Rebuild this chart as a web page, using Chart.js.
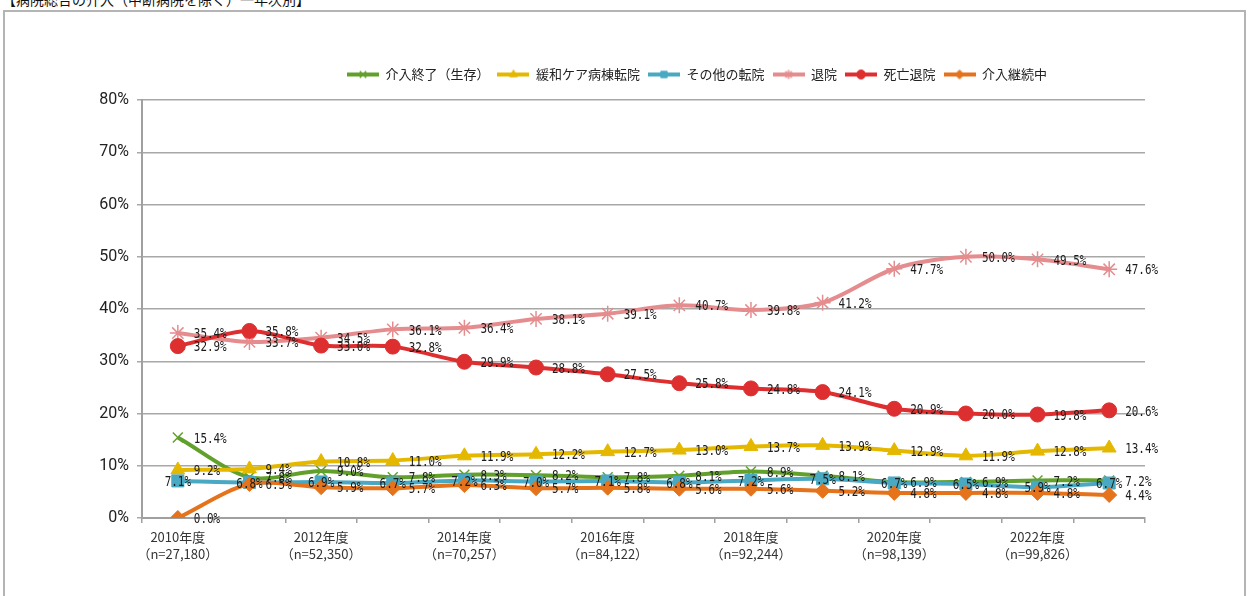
<!DOCTYPE html>
<html>
<head>
<meta charset="utf-8">
<script src="https://cdn.jsdelivr.net/npm/chart.js@4.4.1/dist/chart.umd.min.js"></script>
<style>
  html, body { margin: 0; padding: 0; background: #fff; }
  #wrap { position: relative; width: 1250px; height: 596px; overflow: hidden; }
  #title { position: absolute; left: 2px; top: -11px; font: 14px "Noto Sans CJK JP", sans-serif; color: #111; white-space: nowrap; }
  #frame { position: absolute; left: 3px; top: 10px; width: 1243px; height: 600px; border: 2px solid #b4b4b4; box-sizing: border-box; }
  #c { position: absolute; left: 0; top: 0; }
</style>
</head>
<body>
<div id="wrap">
  <div id="title">【病院総合の介入（中断病院を除く）一年次別】</div>
  <div id="frame"></div>
  <canvas id="c" width="1250" height="596"></canvas>
</div>
<script>
const years = ["2010年度","2011年度","2012年度","2013年度","2014年度","2015年度","2016年度","2017年度","2018年度","2019年度","2020年度","2021年度","2022年度","2023年度"];
const nLabels = ["（n=27,180）","","（n=52,350）","","（n=70,257）","","（n=84,122）","","（n=92,244）","","（n=98,139）","","（n=99,826）",""];
const shownYears = [true,false,true,false,true,false,true,false,true,false,true,false,true,false];

const seriesNames = ["介入終了（生存）","緩和ケア病棟転院","その他の転院","退院","死亡退院","介入継続中"];
const endAlive     = [15.4, 7.8, 9.0, 7.8, 8.3, 8.2, 7.8, 8.1, 8.9, 8.1, 6.9, 6.9, 7.2, 7.2];
const palliative   = [9.2, 9.4, 10.8, 11.0, 11.9, 12.2, 12.7, 13.0, 13.7, 13.9, 12.9, 11.9, 12.8, 13.4];
const otherTrans   = [7.1, 6.8, 6.9, 6.7, 7.2, 7.0, 7.1, 6.8, 7.2, 7.5, 6.7, 6.5, 5.9, 6.7];
const discharged   = [35.4, 33.7, 34.5, 36.1, 36.4, 38.1, 39.1, 40.7, 39.8, 41.2, 47.7, 50.0, 49.5, 47.6];
const deathDisch   = [32.9, 35.8, 33.0, 32.8, 29.9, 28.8, 27.5, 25.8, 24.8, 24.1, 20.9, 20.0, 19.8, 20.6];
const continuing   = [0.0, 6.5, 5.9, 5.7, 6.3, 5.7, 5.8, 5.6, 5.6, 5.2, 4.8, 4.8, 4.8, 4.4];
const yTicks = [0, 10, 20, 30, 40, 50, 60, 70, 80];

const colors = ["#62a02c", "#e5b800", "#4aa9c2", "#e58c8e", "#de2f30", "#e4731c"];
const styles = ["crossRot", "triangle", "rect", "star", "circle", "rectRot"];
const radii  = [7, 8, 8.5, 8, 7.5, 7.5];
const bw     = [1.5, 1, 1, 1.5, 1, 1];
const labelSide = ["right","right","center","right","right","right"];
const allSeries = [endAlive, palliative, otherTrans, discharged, deathDisch, continuing];

const labels = years.map((y, i) => shownYears[i] ? [y, nLabels[i]] : "");

function legendImg(i) {
  const cv = document.createElement('canvas');
  cv.width = 32; cv.height = 14;
  const c = cv.getContext('2d');
  c.strokeStyle = colors[i]; c.lineWidth = 4;
  c.beginPath(); c.moveTo(0, 7); c.lineTo(32, 7); c.stroke();
  c.fillStyle = colors[i]; c.strokeStyle = colors[i]; c.lineWidth = bw[i];
  Chart.helpers.drawPoint(c, { pointStyle: styles[i], radius: 4.5, rotation: 0, borderWidth: bw[i] }, 16, 7);
  return cv;
}

const datasets = allSeries.map((d, i) => ({
  label: seriesNames[i],
  data: d,
  borderColor: colors[i],
  backgroundColor: colors[i],
  borderWidth: 4,
  pointStyle: styles[i],
  pointRadius: radii[i],
  pointBorderWidth: bw[i],
  pointBackgroundColor: colors[i],
  pointBorderColor: colors[i],
  tension: 0.3,
  order: 10 - i,
  fill: false
}));

const dataLabelPlugin = {
  id: 'dataLabels',
  afterDatasetsDraw(chart) {
    const ctx = chart.ctx;
    const SX = 0.78;
    ctx.save();
    ctx.font = '14px "DejaVu Sans Mono", monospace';
    ctx.fillStyle = '#1c1c1c';
    ctx.textBaseline = 'middle';
    ctx.textAlign = 'left';
    allSeries.forEach((vals, i) => {
      const meta = chart.getDatasetMeta(i);
      meta.data.forEach((pt, j) => {
        const txt = vals[j].toFixed(1) + '%';
        const w = ctx.measureText(txt).width * SX;
        const x = labelSide[i] === 'center' ? pt.x - w / 2 : pt.x + 16;
        ctx.save();
        ctx.translate(x, pt.y + 1.5);
        ctx.scale(SX, 1);
        ctx.fillText(txt, 0, 0);
        ctx.restore();
      });
    });
    ctx.restore();
  }
};

const legendShift = {
  id: 'legendShift',
  afterLayout(chart) {
    if (chart.legend) { chart.legend.left = 249; }
  }
};

const chart = new Chart(document.getElementById('c'), {
  type: 'line',
  data: { labels: labels, datasets: datasets },
  options: {
    responsive: false,
    animation: false,
    devicePixelRatio: 1,
    layout: { padding: { top: 60, right: 105, left: 0, bottom: 0 } },
    plugins: {
      tooltip: { enabled: false },
      legend: {
        position: 'top',
        labels: {
          usePointStyle: true,
          pointStyleWidth: 32,
          boxHeight: 13,
          padding: 8,
          color: '#222',
          font: { family: '"Noto Sans CJK JP", sans-serif', size: 13 },
          sort: (a, b) => a.datasetIndex - b.datasetIndex,
          generateLabels(ch) {
            const items = Chart.defaults.plugins.legend.labels.generateLabels(ch);
            items.forEach(it => { it.pointStyle = legendImg(it.datasetIndex); });
            return items;
          }
        }
      }
    },
    scales: {
      x: {
        offset: true,
        grid: { offset: true, drawOnChartArea: false, drawTicks: true, tickLength: 5, color: '#a0a0a0', lineWidth: 1.5 },
        border: { color: '#a0a0a0', width: 2 },
        ticks: {
          autoSkip: false, maxRotation: 0, minRotation: 0, padding: 6,
          color: '#333',
          font: { family: '"Noto Sans CJK JP", sans-serif', size: 13, lineHeight: 1.3 }
        },
        afterFit(s) { s.height = 78; }
      },
      y: {
        min: 0, max: 80,
        afterBuildTicks(s) { s.ticks = yTicks.map(v => ({ value: v })); },
        grid: { color: '#a8a8a8', lineWidth: 1.5, drawTicks: true, tickLength: 5 },
        border: { color: '#a0a0a0', width: 2 },
        ticks: {
          padding: 8,
          color: '#222',
          font: { family: 'Roboto, sans-serif', size: 16 },
          callback: v => v + '%'
        },
        afterFit(s) { s.width = 142; }
      }
    }
  },
  plugins: [dataLabelPlugin, legendShift]
});
let extra = 0;
const origFit = chart.legend.fit;
chart.legend.fit = function () { origFit.call(this); this.height += extra; };
chart.update();
extra = 100 - chart.chartArea.top;
chart.update();
</script>
</body>
</html>
